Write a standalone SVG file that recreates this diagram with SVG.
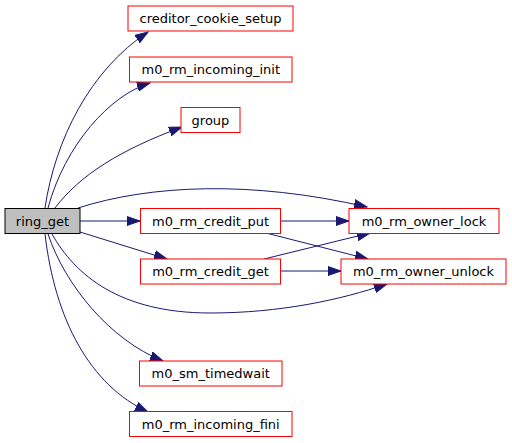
<svg xmlns="http://www.w3.org/2000/svg" width="512" height="443" viewBox="0 0 512 443">
<style>
.n rect{fill:#ffffff;stroke:#ff0000;stroke-width:1}
.n.root rect{fill:#bfbfbf;stroke:#000000}
.n text{font-family:"DejaVu Sans",sans-serif;font-size:13px;fill:#000000;text-anchor:middle}
.e path{fill:none;stroke:#191970;stroke-width:1;marker-end:url(#ah)}
</style>
<defs>
<marker id="ah" markerUnits="userSpaceOnUse" markerWidth="14" markerHeight="10" viewBox="0 0 14 10" refX="13" refY="5" orient="auto">
<path d="M0,0.5 L13,5 L0,9.5 z" fill="#191970" stroke="#191970" stroke-width="1"/>
</marker>
</defs>
<rect width="512" height="443" fill="#ffffff"/>
<g id="edges" class="e">
<path d="M45,208 C55,140 90,70 148,32"/>
<path d="M48,208 C65,145 110,95 150,83"/>
<path d="M55,208 C80,175 120,150 182,127"/>
<path d="M78,208 C150,185 250,180 367,207"/>
<path d="M80,221 L140,221"/>
<path d="M80,232 L167,259"/>
<path d="M281,221 L349,221"/>
<path d="M266,233 L368,259"/>
<path d="M264,259 L370,233"/>
<path d="M281,271 L341,271"/>
<path d="M52,234 C75,275 120,313 210,313 C280,313 340,300 387,284"/>
<path d="M48,234 C65,285 110,340 163,361"/>
<path d="M45,234 C55,320 90,385 148,412"/>
</g>
<g id="ring_get" class="n root"><rect x="5" y="208.5" width="75" height="25"/><text x="42.5" y="225.5">ring_get</text></g>
<g id="creditor_cookie_setup" class="n"><rect x="128" y="6" width="165" height="25"/><text x="210.5" y="23">creditor_cookie_setup</text></g>
<g id="m0_rm_incoming_init" class="n"><rect x="129.5" y="57" width="162.5" height="25"/><text x="210.75" y="74">m0_rm_incoming_init</text></g>
<g id="group" class="n"><rect x="181" y="107.5" width="59" height="25"/><text x="210.5" y="124.5">group</text></g>
<g id="m0_rm_credit_put" class="n"><rect x="140.5" y="208.5" width="140" height="25"/><text x="210.5" y="225.5">m0_rm_credit_put</text></g>
<g id="m0_rm_credit_get" class="n"><rect x="140.5" y="259" width="140" height="25"/><text x="210.5" y="276">m0_rm_credit_get</text></g>
<g id="m0_rm_owner_lock" class="n"><rect x="349" y="208.5" width="150" height="25"/><text x="424" y="225.5">m0_rm_owner_lock</text></g>
<g id="m0_rm_owner_unlock" class="n"><rect x="341" y="259" width="165" height="25"/><text x="423.5" y="276">m0_rm_owner_unlock</text></g>
<g id="m0_sm_timedwait" class="n"><rect x="139.5" y="361" width="142.5" height="25"/><text x="210.75" y="378">m0_sm_timedwait</text></g>
<g id="m0_rm_incoming_fini" class="n"><rect x="129.5" y="411.5" width="162.5" height="25"/><text x="210.75" y="428.5">m0_rm_incoming_fini</text></g>
</svg>
